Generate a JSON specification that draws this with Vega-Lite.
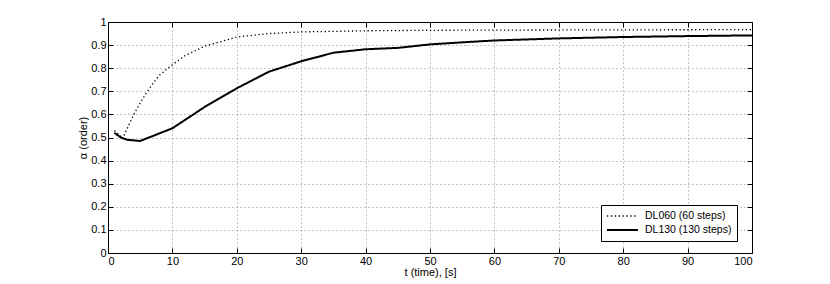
{
  "$schema": "https://vega.github.io/schema/vega-lite/v6.json",
  "autosize": {"type": "none"},
  "width": 644,
  "height": 231,
  "padding": {"left": 108, "top": 22, "right": 78, "bottom": 31},
  "background": "white",
  "config": {
    "font": "Liberation Sans",
    "view": {"stroke": "black", "strokeWidth": 1},
    "axis": {
      "labelFont": "Liberation Sans", "labelFontSize": 11, "labelColor": "black",
      "titleFont": "Liberation Sans", "titleFontSize": 11, "titleFontWeight": "normal", "titleColor": "black",
      "domainColor": "black", "tickColor": "black", "tickSize": -5, "format": ".1~f",
      "gridColor": "#8a8a8a", "gridDash": [1, 3], "gridOpacity": 1, "gridWidth": 1
    }
  },
  "data": {
    "values": [
      {"t": 1, "a": 0.53, "s": "DL060 (60 steps)"},
      {"t": 2, "a": 0.505, "s": "DL060 (60 steps)"},
      {"t": 2.5, "a": 0.51, "s": "DL060 (60 steps)"},
      {"t": 3, "a": 0.54, "s": "DL060 (60 steps)"},
      {"t": 4, "a": 0.6, "s": "DL060 (60 steps)"},
      {"t": 5, "a": 0.65, "s": "DL060 (60 steps)"},
      {"t": 6, "a": 0.695, "s": "DL060 (60 steps)"},
      {"t": 7, "a": 0.735, "s": "DL060 (60 steps)"},
      {"t": 8, "a": 0.77, "s": "DL060 (60 steps)"},
      {"t": 10, "a": 0.815, "s": "DL060 (60 steps)"},
      {"t": 12, "a": 0.855, "s": "DL060 (60 steps)"},
      {"t": 15, "a": 0.895, "s": "DL060 (60 steps)"},
      {"t": 20, "a": 0.935, "s": "DL060 (60 steps)"},
      {"t": 25, "a": 0.95, "s": "DL060 (60 steps)"},
      {"t": 30, "a": 0.957, "s": "DL060 (60 steps)"},
      {"t": 40, "a": 0.962, "s": "DL060 (60 steps)"},
      {"t": 50, "a": 0.964, "s": "DL060 (60 steps)"},
      {"t": 60, "a": 0.965, "s": "DL060 (60 steps)"},
      {"t": 80, "a": 0.966, "s": "DL060 (60 steps)"},
      {"t": 100, "a": 0.967, "s": "DL060 (60 steps)"},
      {"t": 1, "a": 0.52, "s": "DL130 (130 steps)"},
      {"t": 2, "a": 0.5, "s": "DL130 (130 steps)"},
      {"t": 3, "a": 0.49, "s": "DL130 (130 steps)"},
      {"t": 5, "a": 0.485, "s": "DL130 (130 steps)"},
      {"t": 10, "a": 0.54, "s": "DL130 (130 steps)"},
      {"t": 15, "a": 0.632, "s": "DL130 (130 steps)"},
      {"t": 20, "a": 0.713, "s": "DL130 (130 steps)"},
      {"t": 25, "a": 0.785, "s": "DL130 (130 steps)"},
      {"t": 30, "a": 0.83, "s": "DL130 (130 steps)"},
      {"t": 35, "a": 0.867, "s": "DL130 (130 steps)"},
      {"t": 40, "a": 0.882, "s": "DL130 (130 steps)"},
      {"t": 45, "a": 0.888, "s": "DL130 (130 steps)"},
      {"t": 50, "a": 0.903, "s": "DL130 (130 steps)"},
      {"t": 55, "a": 0.912, "s": "DL130 (130 steps)"},
      {"t": 60, "a": 0.92, "s": "DL130 (130 steps)"},
      {"t": 70, "a": 0.929, "s": "DL130 (130 steps)"},
      {"t": 80, "a": 0.935, "s": "DL130 (130 steps)"},
      {"t": 90, "a": 0.939, "s": "DL130 (130 steps)"},
      {"t": 100, "a": 0.942, "s": "DL130 (130 steps)"}
    ]
  },
  "resolve": {"axis": {"x": "independent", "y": "independent"}},
  "layer": [
    {
      "mark": {"type": "line", "color": "black", "clip": true},
      "encoding": {
        "x": {"field": "t", "type": "quantitative", "scale": {"domain": [0, 100], "nice": false},
              "axis": {"title": "t (time), [s]", "values": [0,10,20,30,40,50,60,70,80,90,100], "labelPadding": 7, "titlePadding": 0}},
        "y": {"field": "a", "type": "quantitative", "scale": {"domain": [0, 1], "nice": false},
              "axis": {"title": "α (order)", "values": [0,0.1,0.2,0.3,0.4,0.5,0.6,0.7,0.8,0.9,1], "labelPadding": 7, "titlePadding": 2}},
        "strokeDash": {"field": "s", "type": "nominal",
          "scale": {"domain": ["DL060 (60 steps)", "DL130 (130 steps)"], "range": [[1.3, 2.6], [1, 0]]},
          "legend": {"title": null, "orient": "none", "legendX": 493, "legendY": 183,
                     "strokeColor": "black", "fillColor": "white", "padding": 5,
                     "symbolType": "M-1,0H5.2", "symbolSize": 100, "symbolStrokeColor": "black",
                     "labelFont": "Liberation Sans", "labelFontSize": 10.5, "labelColor": "black",
                     "labelOffset": 27, "rowPadding": 2, "cornerRadius": 0}},
        "strokeWidth": {"field": "s", "type": "nominal",
          "scale": {"domain": ["DL060 (60 steps)", "DL130 (130 steps)"], "range": [1.3, 2]},
          "legend": {"title": null, "orient": "none", "legendX": 493, "legendY": 183,
                     "strokeColor": "black", "fillColor": "white", "padding": 5,
                     "symbolType": "M-1,0H5.2", "symbolSize": 100, "symbolStrokeColor": "black",
                     "labelFont": "Liberation Sans", "labelFontSize": 10.5, "labelColor": "black",
                     "labelOffset": 27, "rowPadding": 2, "cornerRadius": 0}}
      }
    },
    {
      "mark": {"type": "rule", "opacity": 0},
      "encoding": {
        "x": {"field": "t", "type": "quantitative",
              "axis": {"orient": "top", "labels": false, "grid": false, "title": null, "values": [0,10,20,30,40,50,60,70,80,90,100]}},
        "y": {"field": "a", "type": "quantitative",
              "axis": {"orient": "right", "labels": false, "grid": false, "title": null, "values": [0,0.1,0.2,0.3,0.4,0.5,0.6,0.7,0.8,0.9,1]}}
      }
    }
  ]
}
